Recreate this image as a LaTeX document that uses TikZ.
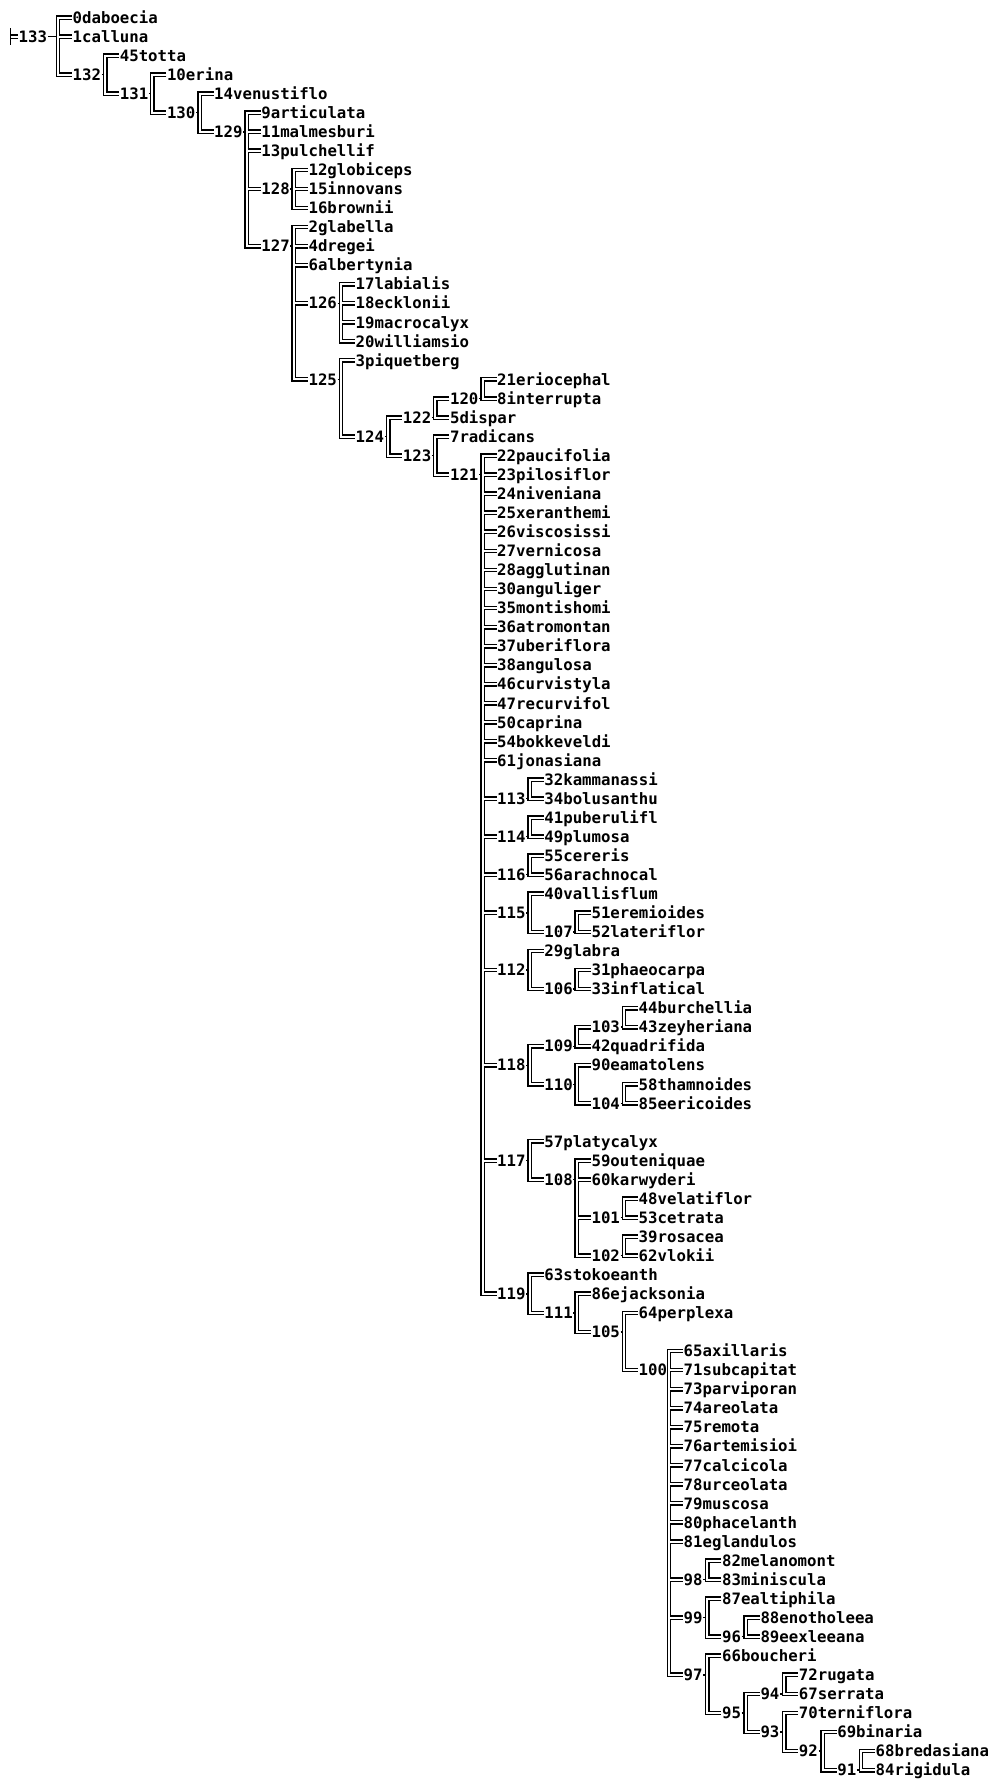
\documentclass[tikz,border=0pt]{standalone}
\usepackage{fontspec}
\setmonofont{DejaVu Sans Mono}
\begin{document}
\begin{tikzpicture}[x=1pt, y=-1pt,
  every node/.style={font=\ttfamily\bfseries\fontsize{15.7}{18}\selectfont, inner sep=0.5pt, text height=11.4pt, text depth=0pt, anchor=west},
  branch/.style={double, double distance=2pt, line width=1.4pt},
  twig/.style={branch, shorten <=1pt},
  stub/.style={line width=1.4pt}]
\useasboundingbox (0,0) rectangle (989,1780);
% terminal taxa: number/name/level/row
\foreach \num/\tx/\lev/\row in {0/daboecia/1/1, 1/calluna/1/2, 45/totta/2/3, 10/erina/3/4,
  14/venustiflo/4/5, 9/articulata/5/6, 11/malmesburi/5/7, 13/pulchellif/5/8,
  12/globiceps/6/9, 15/innovans/6/10, 16/brownii/6/11, 2/glabella/6/12, 4/dregei/6/13,
  6/albertynia/6/14, 17/labialis/7/15, 18/ecklonii/7/16, 19/macrocalyx/7/17,
  20/williamsio/7/18, 3/piquetberg/7/19, 21/eriocephal/10/20, 8/interrupta/10/21,
  5/dispar/9/22, 7/radicans/9/23, 22/paucifolia/10/24, 23/pilosiflor/10/25,
  24/niveniana/10/26, 25/xeranthemi/10/27, 26/viscosissi/10/28, 27/vernicosa/10/29,
  28/agglutinan/10/30, 30/anguliger/10/31, 35/montishomi/10/32, 36/atromontan/10/33,
  37/uberiflora/10/34, 38/angulosa/10/35, 46/curvistyla/10/36, 47/recurvifol/10/37,
  50/caprina/10/38, 54/bokkeveldi/10/39, 61/jonasiana/10/40, 32/kammanassi/11/41,
  34/bolusanthu/11/42, 41/puberulifl/11/43, 49/plumosa/11/44, 55/cereris/11/45,
  56/arachnocal/11/46, 40/vallisflum/11/47, 51/eremioides/12/48, 52/lateriflor/12/49,
  29/glabra/11/50, 31/phaeocarpa/12/51, 33/inflatical/12/52, 44/burchellia/13/53,
  43/zeyheriana/13/54, 42/quadrifida/12/55, 90/eamatolens/12/56, 58/thamnoides/13/57,
  85/eericoides/13/58, 57/platycalyx/11/60, 59/outeniquae/12/61, 60/karwyderi/12/62,
  48/velatiflor/13/63, 53/cetrata/13/64, 39/rosacea/13/65, 62/vlokii/13/66,
  63/stokoeanth/11/67, 86/ejacksonia/12/68, 64/perplexa/13/69, 65/axillaris/14/71,
  71/subcapitat/14/72, 73/parviporan/14/73, 74/areolata/14/74, 75/remota/14/75,
  76/artemisioi/14/76, 77/calcicola/14/77, 78/urceolata/14/78, 79/muscosa/14/79,
  80/phacelanth/14/80, 81/eglandulos/14/81, 82/melanomont/15/82, 83/miniscula/15/83,
  87/ealtiphila/15/84, 88/enotholeea/16/85, 89/eexleeana/16/86, 66/boucheri/15/87,
  72/rugata/17/88, 67/serrata/17/89, 70/terniflora/17/90, 69/binaria/18/91,
  68/bredasiana/19/92, 84/rigidula/19/93}{
  \pgfmathsetmacro{\xx}{\lev<14 ? 72+(\lev-1)*47.17 : 683+(\lev-14)*38.4}
  \pgfmathsetmacro{\yy}{17.5+(\row-1)*19.05}
  \node (n\num) at (\xx,\yy) {\num\tx};
}
% internal nodes: number/level/row
\node (n133) at (18,36.55) {133};
\foreach \num/\lev/\row in {132/1/4, 131/2/5, 130/3/6, 129/4/7, 128/5/10, 127/5/13,
  126/6/16, 125/6/20, 124/7/23, 122/8/22, 120/9/21, 123/8/24, 121/9/25, 113/10/42,
  114/10/44, 116/10/46, 115/10/48, 107/11/49, 112/10/51, 106/11/52, 118/10/56,
  109/11/55, 103/12/54, 110/11/57, 104/12/58, 117/10/61, 108/11/62, 101/12/64,
  102/12/66, 119/10/68, 111/11/69, 105/12/70, 100/13/72, 98/14/83, 99/14/85,
  96/15/86, 97/14/88, 95/15/90, 94/16/89, 93/16/91, 92/17/92, 91/18/93}{
  \pgfmathsetmacro{\xx}{\lev<14 ? 72+(\lev-1)*47.17 : 683+(\lev-14)*38.4}
  \pgfmathsetmacro{\yy}{17.5+(\row-1)*19.05}
  \node (n\num) at (\xx,\yy) {\num};
}
% root stub
\coordinate (rt) at (10.5,36.55);
\draw[stub] (rt) ++(0,-8.5) -- ++(0,17);
\draw[branch] (rt) -- (n133.west);
% brackets: parent/first child/last child
\foreach \p/\f/\la in {133/0/132, 132/45/131, 131/10/130, 130/14/129, 129/9/127,
  128/12/16, 127/2/125, 126/17/20, 125/3/124, 124/122/123, 122/120/5, 120/21/8,
  123/7/121, 121/22/119, 113/32/34, 114/41/49, 116/55/56, 115/40/107, 107/51/52,
  112/29/106, 106/31/33, 118/109/110, 109/103/42, 103/44/43, 110/90/104, 104/58/85,
  117/57/108, 108/59/102, 101/48/53, 102/39/62, 119/63/111, 111/86/105, 105/64/100,
  100/65/97, 98/82/83, 99/87/96, 96/88/89, 97/66/95, 95/94/93, 94/72/67, 93/70/92,
  92/69/91, 91/68/84}{
  \path (n\f.west) ++(-14,0) coordinate (b\p);
  \draw[stub] (n\p.east) -- (n\p.east -| b\p);
  \draw[branch] (n\f.west) -- (b\p) |- (n\la.west);
}
% middle children
\foreach \p/\c in {133/1, 129/11, 129/13, 129/128, 128/15, 127/4, 127/6, 127/126,
  126/18, 126/19, 121/23, 121/24, 121/25, 121/26, 121/27, 121/28, 121/30, 121/35,
  121/36, 121/37, 121/38, 121/46, 121/47, 121/50, 121/54, 121/61, 121/113, 121/114,
  121/116, 121/115, 121/112, 121/118, 121/117, 108/60, 108/101, 100/71, 100/73,
  100/74, 100/75, 100/76, 100/77, 100/78, 100/79, 100/80, 100/81, 100/98, 100/99}{
  \draw[twig] (b\p |- n\c.west) -- (n\c.west);
}
\end{tikzpicture}
\end{document}
